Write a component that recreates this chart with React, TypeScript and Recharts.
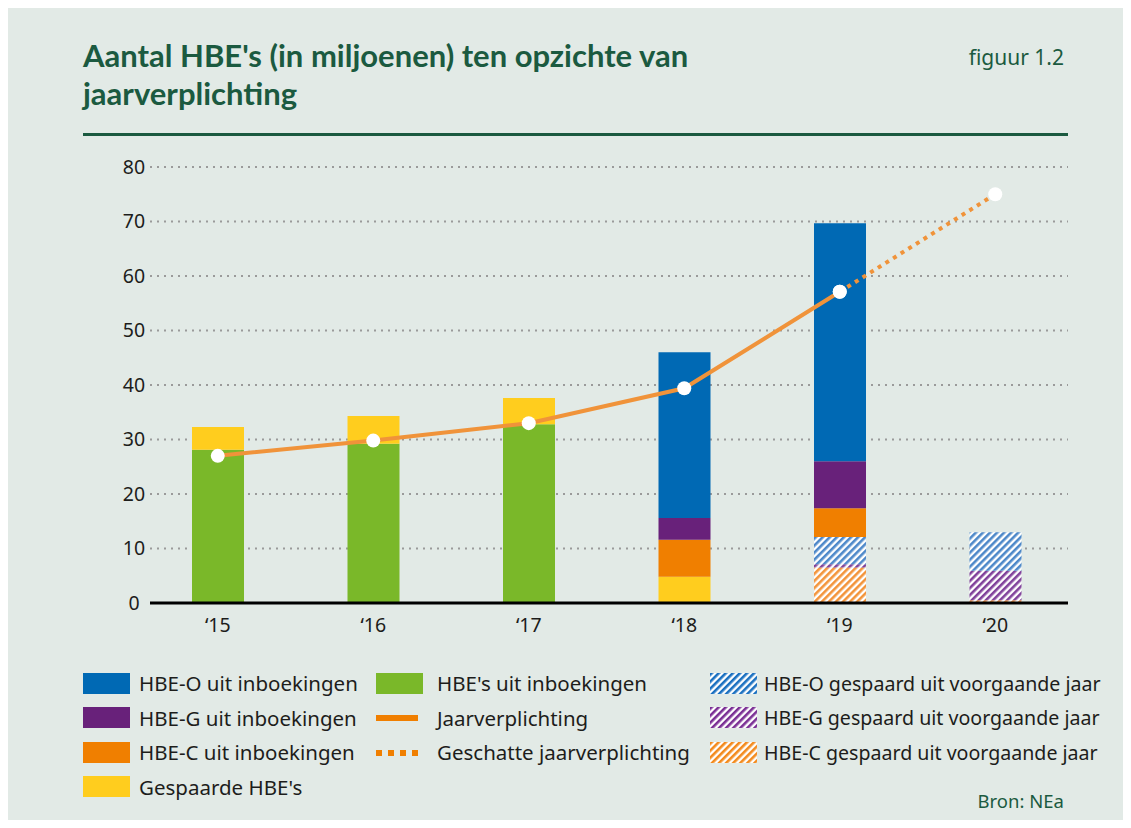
import React from 'react';
import {
  ComposedChart,
  Bar,
  Line,
  XAxis,
  YAxis,
  CartesianGrid,
} from 'recharts';

// jaren (x-as)
const jaren = ['‘15', '‘16', '‘17', '‘18', '‘19', '‘20'];

// waarden in miljoenen HBE's
const hbeInboekingen = [28.1, 29.2, 32.8, 0, 0, 0];
const gespaardBoven = [4.2, 5.1, 4.8, 0, 0, 0];
const gespaardOnder = [0, 0, 0, 4.8, 0, 0];
const hbeCInboekingen = [0, 0, 0, 6.8, 5.3, 0];
const hbeGInboekingen = [0, 0, 0, 4.0, 8.6, 0];
const hbeOInboekingen = [0, 0, 0, 30.4, 43.7, 0];
const hbeCGespaard = [0, 0, 0, 0, 6.5, 0.5];
const hbeGGespaard = [0, 0, 0, 0, 0.6, 5.4];
const hbeOGespaard = [0, 0, 0, 0, 5.0, 7.1];
const jaarverplichting = [27.0, 29.8, 33.0, 39.4, 57.1, null];
const geschatteVerplichting = [null, null, null, null, 57.1, 75.0];

const yTicks = [0, 10, 20, 30, 40, 50, 60, 70, 80];

const BG = '#e2eae6';
const GREEN_DARK = '#1b5a40';
const TEXT = '#1d1d1b';
const C_BLUE = '#0069b4';
const C_PURPLE = '#68217a';
const C_ORANGE = '#f07f00';
const C_YELLOW = '#ffcd1e';
const C_GREEN = '#7ab829';
const C_LINE = '#f0933a';
const H_BLUE = '#4d88c9';
const H_PURPLE = '#80409a';
const H_ORANGE = '#f3943a';

const data = jaren.map((jaar, i) => ({
  jaar,
  cGespaard: hbeCGespaard[i],
  gGespaard: hbeGGespaard[i],
  oGespaard: hbeOGespaard[i],
  gespaardOnder: gespaardOnder[i],
  cInb: hbeCInboekingen[i],
  gInb: hbeGInboekingen[i],
  oInb: hbeOInboekingen[i],
  hbe: hbeInboekingen[i],
  gespaardBoven: gespaardBoven[i],
  verplichting: jaarverplichting[i],
  geschat: geschatteVerplichting[i],
}));

const Hatch = ({ id, color }: { id: string; color: string }) => (
  <pattern
    id={id}
    patternUnits="userSpaceOnUse"
    width={5}
    height={5}
    patternTransform="rotate(45)"
  >
    <rect width={5} height={5} fill="#fff" />
    <rect width={2.6} height={5} fill={color} />
  </pattern>
);

type LegendItem = { label: string; kind: 'box' | 'hatch' | 'line' | 'dots'; color: string };

const legendCols: LegendItem[][] = [
  [
    { label: 'HBE-O uit inboekingen', kind: 'box', color: C_BLUE },
    { label: 'HBE-G uit inboekingen', kind: 'box', color: C_PURPLE },
    { label: 'HBE-C uit inboekingen', kind: 'box', color: C_ORANGE },
    { label: "Gespaarde HBE's", kind: 'box', color: C_YELLOW },
  ],
  [
    { label: "HBE's uit inboekingen", kind: 'box', color: C_GREEN },
    { label: 'Jaarverplichting', kind: 'line', color: C_ORANGE },
    { label: 'Geschatte jaarverplichting', kind: 'dots', color: C_ORANGE },
  ],
  [
    { label: 'HBE-O gespaard uit voorgaande jaar', kind: 'hatch', color: '#1a70c0' },
    { label: 'HBE-G gespaard uit voorgaande jaar', kind: 'hatch', color: '#7a2e94' },
    { label: 'HBE-C gespaard uit voorgaande jaar', kind: 'hatch', color: '#f38a1c' },
  ],
];

const colLeft = [75, 368, 702];
const colText = [56, 61, 54];
const colFont = [20.5, 20.5, 19.6];

const Swatch = ({ item, idx }: { item: LegendItem; idx: string }) => (
  <svg width={47} height={21} style={{ display: 'block' }}>
    <defs>
      <Hatch id={`lg-${idx}`} color={item.color} />
    </defs>
    {item.kind === 'box' && <rect width={47} height={21} fill={item.color} />}
    {item.kind === 'hatch' && <rect width={47} height={21} fill={`url(#lg-${idx})`} />}
    {item.kind === 'line' && <rect y={8} width={42} height={6} fill={item.color} />}
    {item.kind === 'dots' && (
      <line x1={0} x2={44} y1={11} y2={11} stroke={item.color} strokeWidth={6} strokeDasharray="6 6" />
    )}
  </svg>
);

export default function App() {
  return (
    <div
      style={{
        position: 'relative',
        width: 1115,
        height: 812,
        background: BG,
        fontFamily: '"Noto Sans", sans-serif',
        color: TEXT,
      }}
    >
      <div
        style={{
          position: 'absolute',
          left: 75,
          top: 28,
          fontFamily: 'Lato, "Noto Sans", sans-serif',
          fontWeight: 'bold',
          fontSize: 31,
          lineHeight: '38px',
          color: GREEN_DARK,
          whiteSpace: 'nowrap',
        }}
      >
        Aantal HBE's (in miljoenen) ten opzichte van
        <br />
        jaarverplichting
      </div>
      <div style={{ position: 'absolute', right: 59, top: 35, fontSize: 21, color: GREEN_DARK }}>
        figuur 1.2
      </div>
      <div
        style={{ position: 'absolute', left: 75, top: 125, width: 985, height: 3, background: GREEN_DARK }}
      />

      <div style={{ position: 'absolute', left: 0, top: 140 }}>
        <ComposedChart
          width={1100}
          height={510}
          data={data}
          margin={{ top: 19, right: 40, bottom: 25, left: 82 }}
        >
          <defs>
            <Hatch id="hO" color={H_BLUE} />
            <Hatch id="hG" color={H_PURPLE} />
            <Hatch id="hC" color={H_ORANGE} />
          </defs>
          <CartesianGrid
            vertical={false}
            stroke="#9a9a9a"
            strokeWidth={2}
            strokeDasharray="2 5"
          />
          <XAxis
            dataKey="jaar"
            padding={{ left: -10, right: -5 }}
            tickLine={false}
            tickSize={0}
            tickMargin={15}
            axisLine={{ stroke: '#000', strokeWidth: 3 }}
            tick={{ fill: TEXT, fontSize: 19.5 }}
            height={30}
          />
          <YAxis
            domain={[0, 80]}
            ticks={yTicks}
            width={60}
            axisLine={false}
            tickLine={false}
            tickSize={0}
            tickMargin={16}
            tick={{ fill: TEXT, fontSize: 19.5, textAnchor: 'middle' }}
          />
          <Bar dataKey="cGespaard" stackId="a" fill="url(#hC)" barSize={52} isAnimationActive={false} />
          <Bar dataKey="gGespaard" stackId="a" fill="url(#hG)" isAnimationActive={false} />
          <Bar dataKey="oGespaard" stackId="a" fill="url(#hO)" isAnimationActive={false} />
          <Bar dataKey="gespaardOnder" stackId="a" fill={C_YELLOW} isAnimationActive={false} />
          <Bar dataKey="cInb" stackId="a" fill={C_ORANGE} isAnimationActive={false} />
          <Bar dataKey="gInb" stackId="a" fill={C_PURPLE} isAnimationActive={false} />
          <Bar dataKey="oInb" stackId="a" fill={C_BLUE} isAnimationActive={false} />
          <Bar dataKey="hbe" stackId="a" fill={C_GREEN} isAnimationActive={false} />
          <Bar dataKey="gespaardBoven" stackId="a" fill={C_YELLOW} isAnimationActive={false} />
          <Line
            dataKey="geschat"
            type="linear"
            stroke={C_LINE}
            strokeWidth={4}
            strokeDasharray="4 5"
            dot={{ r: 7, fill: '#fff', stroke: 'none' }}
            isAnimationActive={false}
          />
          <Line
            dataKey="verplichting"
            type="linear"
            stroke={C_LINE}
            strokeWidth={4}
            dot={{ r: 7, fill: '#fff', stroke: 'none' }}
            isAnimationActive={false}
          />
        </ComposedChart>
      </div>

      {legendCols.map((col, ci) =>
        col.map((item, ri) => (
          <div
            key={item.label}
            style={{
              position: 'absolute',
              left: colLeft[ci],
              top: 664 + ri * 34.5,
              height: 22,
              display: 'flex',
              alignItems: 'center',
              fontSize: colFont[ci],
              whiteSpace: 'nowrap',
            }}
          >
            <Swatch item={item} idx={`${ci}-${ri}`} />
            <span style={{ position: 'absolute', left: colText[ci] }}>{item.label}</span>
          </div>
        ))
      )}

      <div style={{ position: 'absolute', right: 59, top: 780, fontSize: 18.5, color: GREEN_DARK }}>
        Bron: NEa
      </div>
    </div>
  );
}
